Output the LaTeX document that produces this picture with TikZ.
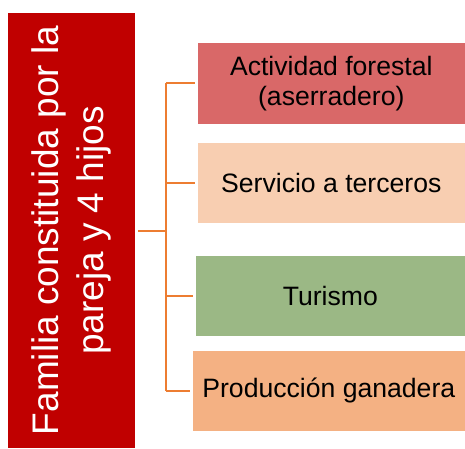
\documentclass[tikz,border=0pt]{standalone}
\usepackage{fontspec}
\setmainfont{Liberation Sans}
\usetikzlibrary{calc}

\definecolor{rojofam}{RGB}{192,0,0}
\definecolor{rojoact}{RGB}{217,104,104}
\definecolor{durazno}{RGB}{248,206,177}
\definecolor{verdetur}{RGB}{155,184,133}
\definecolor{naranja}{RGB}{244,177,131}
\definecolor{linea}{RGB}{237,125,49}

\begin{document}
\begin{tikzpicture}[x=1pt, y=1pt,
    caja/.style={anchor=east, minimum height=80pt, inner sep=0pt, align=center,
        font=\fontsize{26.6}{30}\selectfont},
    rama/.style={draw=linea, line width=2pt}]
        \useasboundingbox (0,0) rectangle (465,448);

        % Draw family box
        \node[fill=rojofam, text=white, rotate=90, minimum width=435pt, minimum height=127pt,
            inner sep=0pt, align=center, font=\fontsize{37}{44.5}\selectfont]
            (fam) at (71.5,217.5) {Familia constituida por la\\pareja y 4 hijos};

        % Draw activity boxes
        \node[caja, fill=rojoact, minimum width=267pt] (act) at (465,364.5) {Actividad forestal\\(aserradero)};
        \node[caja, fill=durazno, minimum width=267pt] (ser) at (465,265) {Servicio a terceros};
        \node[caja, fill=verdetur, minimum width=269pt] (tur) at (465,152) {Turismo};
        \node[caja, fill=naranja, minimum width=272pt] (pro) at (465,57.5) {Producción ganadera};

        % Draw bracket
        \draw[rama] ($(fam.south)+(3,0)$) -- ++(28,0) coordinate (eje);
        \draw[rama] (eje |- act.west) -- (eje |- pro.west);
        \draw[rama, shorten >=3pt] (eje |- act.west) -- (act.west);
        \draw[rama, shorten >=3pt] (eje |- ser.west) -- (ser.west);
        \draw[rama, shorten >=3pt] (eje |- tur.west) -- (tur.west);
        \draw[rama, shorten >=3pt] (eje |- pro.west) -- (pro.west);
    \end{tikzpicture}
\end{document}
